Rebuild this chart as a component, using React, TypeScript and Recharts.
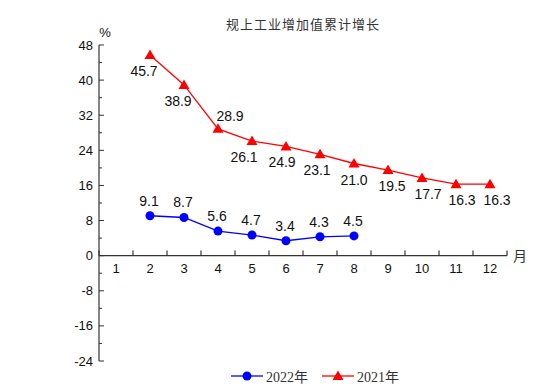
import { LineChart, Line, XAxis, YAxis, ReferenceLine, ReferenceDot, LabelList } from 'recharts'

const months = [1, 2, 3, 4, 5, 6, 7, 8, 9, 10, 11, 12]
const growth2022 = [null, 9.1, 8.7, 5.6, 4.7, 3.4, 4.3, 4.5, null, null, null, null]
const growth2021 = [null, 45.7, 38.9, 28.9, 26.1, 24.9, 23.1, 21.0, 19.5, 17.7, 16.3, 16.3]
const yTicks = [-24, -20, -16, -12, -8, -4, 0, 4, 8, 12, 16, 20, 24, 28, 32, 36, 40, 44, 48]
const title = '规上工业增加值累计增长'

// label nudges (px) for the 2021 series, by month index
const redDx = [0, -6, -6, 12, -8, -4, -3, 0, 4, 6, 6, 7]

const data = months.map((m, i) => ({ month: m, y2022: growth2022[i], y2021: growth2021[i] }))

const AXIS = '#333'
const FONT = 'Arial, "Liberation Sans", sans-serif'

function YTick(props: any) {
  const { x, y, payload } = props
  const v = payload.value
  const major = v % 8 === 0
  return (
    <g>
      <line x1={x} x2={x + (major ? 5 : 3)} y1={y} y2={y} stroke={AXIS} />
      {major && (
        <text x={x - 6} y={y} textAnchor="end" dominantBaseline="central" fontSize={13} fill="#111" fontFamily={FONT}>
          {v}
        </text>
      )}
    </g>
  )
}

function Triangle(props: any) {
  const { cx, cy, value } = props
  if (value == null || cx == null) return null
  return <path d={`M${cx},${cy - 5.5} L${cx - 5.5},${cy + 4} L${cx + 5.5},${cy + 4} Z`} fill="#ff0000" />
}

function RedLabel(props: any) {
  const { x, y, value, index } = props
  if (value == null) return null
  const above = index === 3
  return (
    <text x={x + redDx[index]} y={above ? y - 13 : y + 16} textAnchor="middle" dominantBaseline="central" fontSize={14} fill="#111" fontFamily={FONT}>
      {Number(value).toFixed(1)}
    </text>
  )
}

function BlueLabel(props: any) {
  const { x, y, value } = props
  if (value == null) return null
  return (
    <text x={x - 1} y={y - 15} textAnchor="middle" dominantBaseline="central" fontSize={14} fill="#111" fontFamily={FONT}>
      {Number(value).toFixed(1)}
    </text>
  )
}

export default function App() {
  return (
    <div style={{ position: 'absolute', left: 0, top: 0, width: 554, height: 387, background: '#fff' }}>
      <div style={{ position: 'absolute', top: 14, left: 0, width: 606, textAlign: 'center', fontSize: 13, color: '#333', fontFamily: '"Noto Sans CJK SC", sans-serif', letterSpacing: 1 }}>
        {title}
      </div>
      <LineChart width={554} height={387} data={data} margin={{ top: 45, right: 47, bottom: 26, left: 59 }}>
        <XAxis dataKey="month" type="number" domain={[0.5, 12.5]} hide />
        <YAxis
          type="number"
          domain={[-24, 48]}
          ticks={yTicks}
          interval={0}
          width={40}
          tickSize={0}
          tickMargin={0}
          tickLine={false}
          axisLine={{ stroke: AXIS, strokeWidth: 1.2 }}
          tick={<YTick />}
        />
        <ReferenceLine y={0} stroke={AXIS} strokeWidth={1.2} ifOverflow="extendDomain" />
        {[0, ...months].map((m) => (
          <ReferenceLine
            key={`t${m}`}
            segment={[{ x: m + 0.5, y: 0 }, { x: m + 0.5, y: 1.15 }]}
            stroke={AXIS}
            strokeWidth={1.2}
          />
        ))}
        {months.map((m) => (
          <ReferenceDot
            key={`l${m}`}
            x={m}
            y={0}
            r={0}
            fill="none"
            stroke="none"
            label={{ value: String(m), position: 'bottom', offset: 8, fontSize: 13, fill: '#111', fontFamily: FONT }}
          />
        ))}
        <ReferenceDot x={12.5} y={0} r={0} fill="none" stroke="none"
          label={{ value: '月', position: 'right', offset: 6, fontSize: 14, fill: '#333', fontFamily: '"Noto Sans CJK SC", sans-serif' }} />
        <ReferenceDot x={0.5} y={48} r={0} fill="none" stroke="none"
          label={{ value: '%', position: 'top', offset: 8, dx: 6, fontSize: 13, fill: '#111', fontFamily: FONT }} />
        <Line
          dataKey="y2021"
          stroke="#ff0000"
          strokeWidth={1.3}
          dot={<Triangle />}
          activeDot={false}
          isAnimationActive={false}
        >
          <LabelList dataKey="y2021" content={<RedLabel />} />
        </Line>
        <Line
          dataKey="y2022"
          stroke="#0000ff"
          strokeWidth={1.3}
          dot={{ r: 4.5, fill: '#0000ff', stroke: 'none' }}
          activeDot={false}
          isAnimationActive={false}
        >
          <LabelList dataKey="y2022" content={<BlueLabel />} />
        </Line>
      </LineChart>
      <div style={{ position: 'absolute', top: 366, left: 231, display: 'flex', alignItems: 'center', fontFamily: '"Liberation Serif", "Noto Sans CJK SC", serif', fontSize: 14, color: '#333' }}>
        <svg width={32} height={12}>
          <line x1={0} x2={32} y1={6} y2={6} stroke="#0000ff" strokeWidth={1.3} />
          <circle cx={16} cy={6} r={4.5} fill="#0000ff" />
        </svg>
        <span style={{ marginLeft: 3 }}>2022年</span>
        <svg width={32} height={12} style={{ marginLeft: 14 }}>
          <line x1={0} x2={32} y1={6} y2={6} stroke="#ff0000" strokeWidth={1.3} />
          <path d="M16,0.5 L10.5,10 L21.5,10 Z" fill="#ff0000" />
        </svg>
        <span style={{ marginLeft: 3 }}>2021年</span>
      </div>
    </div>
  )
}
